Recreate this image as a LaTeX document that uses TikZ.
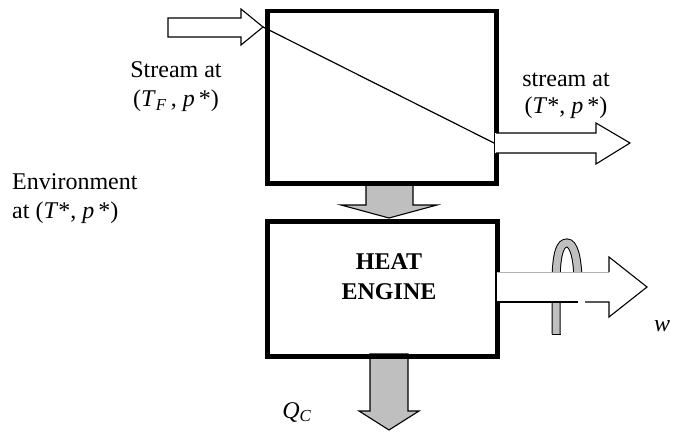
\documentclass[tikz,border=0pt]{standalone}
\usepackage{fontspec}
\setmainfont{Liberation Serif}
\begin{document}
\begin{tikzpicture}[x=1pt,y=-1pt,
  box/.style={draw, line width=4.5pt, rectangle, inner sep=0pt},
  whitearrow/.style={draw, fill=white, line width=1.1pt, line join=miter},
  grayarrow/.style={draw, fill=gray!50, line width=1.1pt, line join=miter},
  lbl/.style={font=\fontsize{24}{29}\selectfont, inner sep=0pt},
  boldlbl/.style={font=\fontsize{24}{30}\selectfont\bfseries, inner sep=0pt, align=center}]
\useasboundingbox (0,0) rectangle (677,436);
% gray arrows (behind boxes)
\draw[grayarrow] (366,183) -- (413,183) -- (413,205) -- (437,205) -- (389,218) -- (341,205) -- (366,205) -- cycle;
\draw[grayarrow] (370,354) -- (408,354) -- (408,411) -- (419,411) -- (389,430) -- (359,411) -- (370,411) -- cycle;
% boxes
\node[box, minimum width=229pt, minimum height=172pt, anchor=north west] (exch) at (265,9) {};
\node[box, minimum width=230pt, minimum height=135pt, anchor=north west] (eng) at (265,219) {};
\node[boldlbl] (engtxt) at (389,277) {HEAT\\ENGINE};
% inlet arrow
\draw[whitearrow] (168,18) -- (241,18) -- (241,9) -- (263,27) -- (241,45) -- (241,37) -- (168,37) -- cycle;
\coordinate (in) at (263,27);
\coordinate (outp) at (494,143);
\draw[line width=1.2pt] (in) -- (outp);
% outlet arrow
\fill[white] (495,133) -- (596,133) -- (596,123) -- (630,143) -- (596,164) -- (596,153) -- (495,153) -- cycle;
\draw[line width=1.1pt, line join=miter] (496,133) -- (596,133) -- (596,123) -- (630,143) -- (596,164) -- (596,153) -- (496,153);
% shaft loop (behind work arrow)
\draw[line width=1pt, double=gray!50, double distance=7pt] (556,334) -- (556,285) .. controls (556,250) and (561,243) .. (567,243) .. controls (573,243) and (578,255) .. (578,285);
\draw[line width=1pt] (551.5,334.5) -- (560.5,334.5);
% work arrow
\fill[white] (497,272) -- (609,272) -- (609,257) -- (647,287) -- (609,317) -- (609,302) -- (497,302) -- cycle;
\draw[line width=0.8pt, gray!60] (497,272) -- (609,272);
\draw[line width=1.1pt, line join=miter] (609,272) -- (609,257) -- (647,287) -- (609,317) -- (609,302) -- (585,302);
\draw[line width=1.1pt] (578,302) -- (497,302);
% labels
\node[lbl, align=center] (sin) at (176,87) {Stream at\\(\textit{T}\textsubscript{\textit{F}}\,, \textit{p}\,*)};
\node[lbl, align=center, font=\fontsize{24}{27}\selectfont] (sout) at (566,96) {stream at\\(\textit{T}*, \textit{p}\,*)};
\node[lbl, align=left, anchor=west] (env) at (12,199) {Environment\\at (\textit{T}*, \textit{p}\,*)};
\node[lbl] (qc) at (297,412) {\textit{Q}\textsubscript{\textit{C}}};
\node[lbl] (w) at (662,326) {\textit{w}};
\end{tikzpicture}
\end{document}
